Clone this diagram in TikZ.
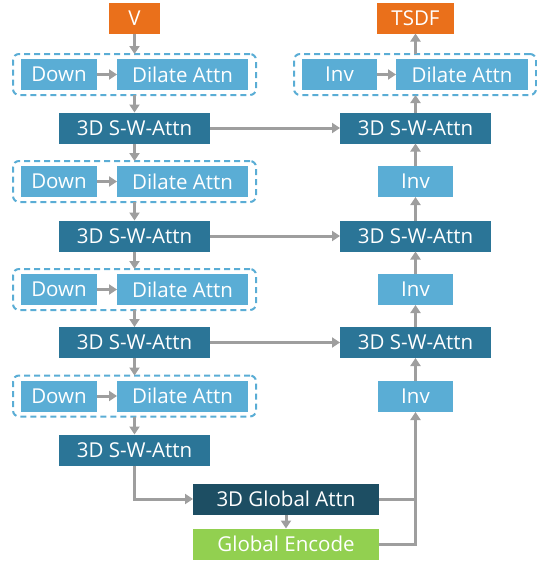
\documentclass[tikz,border=0pt]{standalone}
\usepackage{fontspec}
\setmainfont{Open Sans}
\usetikzlibrary{arrows.meta,fit}

\definecolor{ioorange}{HTML}{EA701B}
\definecolor{liteblue}{HTML}{5AADD5}
\definecolor{swablue}{HTML}{2B7597}
\definecolor{globblue}{HTML}{1D4E63}
\definecolor{encgreen}{HTML}{92D050}
\definecolor{linkgray}{HTML}{9E9E9E}

\begin{document}
\begin{tikzpicture}[x=1pt,y=-1pt,inner sep=0pt,outer sep=0pt,
block/.style={rectangle,minimum height=31pt,text=white,font=\fontsize{20.5}{24}\selectfont},
io/.style={block,fill=ioorange},
lite/.style={block,fill=liteblue},
swa/.style={block,fill=swablue,minimum width=151pt},
glob/.style={block,minimum width=186pt},
group/.style={draw=liteblue,line width=2pt,dash pattern=on 6pt off 4pt,rounded corners=6pt,inner xsep=8pt,inner ysep=5pt},
link/.style={draw=linkgray,line width=3pt,-{Triangle[length=8pt,width=10pt]}},
wire/.style={draw=linkgray,line width=3pt}]

\useasboundingbox (0,0) rectangle (536,565);

% encoder
\draw (134.5,18) node[io,minimum width=51pt] (V) {V};
\draw (59,74.5) node[lite,minimum width=76pt] (down1) {Down};
\draw (182.5,74.5) node[lite,minimum width=131pt] (dil1) {Dilate Attn};
\draw (134.5,128) node[swa] (enc1) {3D S-W-Attn};
\draw (59,181.5) node[lite,minimum width=76pt] (down2) {Down};
\draw (182.5,181.5) node[lite,minimum width=131pt] (dil2) {Dilate Attn};
\draw (134.5,236) node[swa] (enc2) {3D S-W-Attn};
\draw (59,289.5) node[lite,minimum width=76pt] (down3) {Down};
\draw (182.5,289.5) node[lite,minimum width=131pt] (dil3) {Dilate Attn};
\draw (134.5,342.5) node[swa] (enc3) {3D S-W-Attn};
\draw (59,396) node[lite,minimum width=76pt] (down4) {Down};
\draw (182.5,396) node[lite,minimum width=131pt] (dil4) {Dilate Attn};
\draw (134.5,450) node[swa] (enc4) {3D S-W-Attn};

\node[group,fit=(down1)(dil1)] (grp1) {};
\node[group,fit=(down2)(dil2)] (grp2) {};
\node[group,fit=(down3)(dil3)] (grp3) {};
\node[group,fit=(down4)(dil4)] (grp4) {};

% bottleneck
\draw (286,499) node[glob,fill=globblue] (gatt) {3D Global Attn};
\draw (286,544) node[glob,fill=encgreen] (genc) {Global Encode};

% decoder
\draw (415.5,18) node[io,minimum width=77pt] (TSDF) {TSDF};
\draw (339.5,74.5) node[lite,minimum width=75pt] (inv0) {Inv};
\draw (462,74.5) node[lite,minimum width=132pt] (dil0) {Dilate Attn};
\draw (415.5,128) node[swa] (dec1) {3D S-W-Attn};
\draw (415.5,181.5) node[lite,minimum width=75pt] (inv1) {Inv};
\draw (415.5,236) node[swa] (dec2) {3D S-W-Attn};
\draw (415.5,289.5) node[lite,minimum width=75pt] (inv2) {Inv};
\draw (415.5,342.5) node[swa] (dec3) {3D S-W-Attn};
\draw (415.5,396.5) node[lite,minimum width=75pt] (inv3) {Inv};
\node[group,fit=(inv0)(dil0)] (grp0) {};

% encoder links
\draw[link] (V.south) -- (grp1.north -| V.south);
\draw[link] (down1.east) -- (dil1.west);
\draw[link] (grp1.south -| enc1.north) -- (enc1.north);
\draw[link] (enc1.south) -- (grp2.north -| enc1.south);
\draw[link] (down2.east) -- (dil2.west);
\draw[link] (grp2.south -| enc2.north) -- (enc2.north);
\draw[link] (enc2.south) -- (grp3.north -| enc2.south);
\draw[link] (down3.east) -- (dil3.west);
\draw[link] (grp3.south -| enc3.north) -- (enc3.north);
\draw[link] (enc3.south) -- (grp4.north -| enc3.south);
\draw[link] (down4.east) -- (dil4.west);
\draw[link] (grp4.south -| enc4.north) -- (enc4.north);

% skip links
\draw[link] (enc1.east) -- (dec1.west);
\draw[link] (enc2.east) -- (dec2.west);
\draw[link] (enc3.east) -- (dec3.west);

% bottleneck links
\draw[link] (enc4.south) |- (gatt.west);
\draw[link] (gatt.south) -- (genc.north);
\draw[wire] (gatt.east) -- (gatt.east -| inv3.south);
\draw[link] (genc.east) -| (inv3.south);

% decoder links
\draw[link] (inv3.north) -- (dec3.south);
\draw[link] (dec3.north) -- (inv2.south);
\draw[link] (inv2.north) -- (dec2.south);
\draw[link] (dec2.north) -- (inv1.south);
\draw[link] (inv1.north) -- (dec1.south);
\draw[link] (dec1.north) -- (grp0.south -| dec1.north);
\draw[link] (inv0.east) -- (dil0.west);
\draw[link] (grp0.north -| TSDF.south) -- (TSDF.south);
\end{tikzpicture}
\end{document}
